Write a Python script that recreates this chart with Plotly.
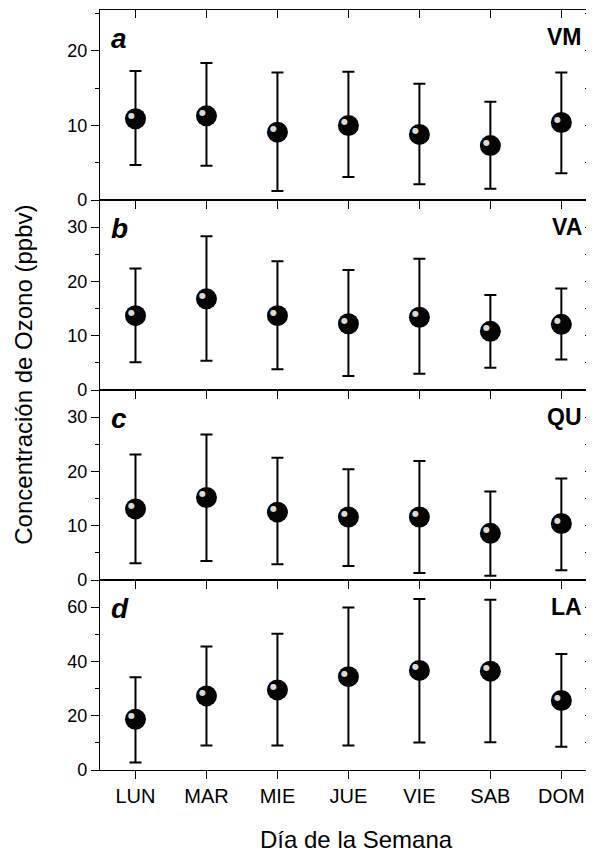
import plotly.graph_objects as go
from plotly.subplots import make_subplots

days = ["LUN", "MAR", "MIE", "JUE", "VIE", "SAB", "DOM"]

# panel a - VM
vm_mean = [10.9, 11.3, 9.1, 10.0, 8.8, 7.3, 10.4]
vm_top = [17.3, 18.4, 17.1, 17.2, 15.6, 13.2, 17.1]
vm_bot = [4.7, 4.6, 1.2, 3.1, 2.1, 1.5, 3.6]
# panel b - VA
va_mean = [13.7, 16.8, 13.7, 12.2, 13.4, 10.8, 12.1]
va_top = [22.4, 28.3, 23.7, 22.1, 24.2, 17.5, 18.7]
va_bot = [5.1, 5.4, 3.8, 2.6, 3.0, 4.1, 5.6]
# panel c - QU
qu_mean = [13.1, 15.2, 12.5, 11.6, 11.6, 8.6, 10.4]
qu_top = [23.1, 26.8, 22.5, 20.4, 21.9, 16.3, 18.7]
qu_bot = [3.1, 3.5, 2.9, 2.6, 1.3, 0.8, 1.8]
# panel d - LA
la_mean = [18.7, 27.3, 29.5, 34.4, 36.7, 36.4, 25.6]
la_top = [34.2, 45.5, 50.2, 59.9, 63.0, 62.7, 42.7]
la_bot = [2.8, 9.0, 9.0, 9.0, 10.1, 10.2, 8.6]

panel_letters = ["a", "b", "c", "d"]
stations = ["VM", "VA", "QU", "LA"]
y_max = [25.5, 35, 35, 70]
y_major = [10, 10, 10, 20]
y_minor = [5, 5, 5, 10]

x_title = "Día de la Semana"
y_title = "Concentración de Ozono (ppbv)"

means = [vm_mean, va_mean, qu_mean, la_mean]
tops = [vm_top, va_top, qu_top, la_top]
bots = [vm_bot, va_bot, qu_bot, la_bot]

FONT = "Liberation Sans, Arial, Helvetica, sans-serif"
xpos = list(range(len(days)))
XR = [-0.5, 6.46]

fig = make_subplots(rows=4, cols=1, shared_xaxes=True, vertical_spacing=0)

for i in range(4):
    r = i + 1
    m, t, b = means[i], tops[i], bots[i]
    up = [tt - mm for tt, mm in zip(t, m)]
    dn = [mm - bb for mm, bb in zip(m, b)]
    fig.add_trace(go.Scatter(
        x=xpos, y=m, mode="markers",
        marker=dict(size=21, color="#050505", line=dict(width=0)),
        error_y=dict(type="data", symmetric=False, array=up, arrayminus=dn,
                     color="black", thickness=2, width=6),
        showlegend=False, hoverinfo="skip"), row=r, col=1)
    xr = "x" if i == 0 else f"x{r}"
    yr = "y" if i == 0 else f"y{r}"
    # specular highlight on each sphere
    for xv, yv in zip(xpos, m):
        fig.add_annotation(x=xv, y=yv, xref=xr, yref=yr, text="\u25CF",
                           showarrow=False, xshift=-3.5, yshift=3.5,
                           xanchor="center", yanchor="middle",
                           font=dict(family="DejaVu Sans", size=8, color="#dadada"))

# overlay axes: right-side inside ticks for each panel, top inside ticks for panel a
for i in range(4):
    yid = 5 + i
    xref = "x" if i == 0 else f"x{i+1}"
    yref_main = "y" if i == 0 else f"y{i+1}"
    fig.add_trace(go.Scatter(x=[0], y=[0], mode="markers",
                             marker=dict(opacity=0, size=1),
                             xaxis=xref, yaxis=f"y{yid}",
                             showlegend=False, hoverinfo="skip"))
    fig.layout[f"yaxis{yid}"] = dict(
        overlaying=yref_main, side="right", anchor=xref,
        range=[0, y_max[i]], dtick=y_minor[i], tick0=0,
        ticks="inside", ticklen=9, tickwidth=1, tickcolor="black",
        showticklabels=False, showgrid=False, zeroline=False, showline=False)

fig.add_trace(go.Scatter(x=[0], y=[0], mode="markers",
                         marker=dict(opacity=0, size=1),
                         xaxis="x5", yaxis="y",
                         showlegend=False, hoverinfo="skip"))
fig.layout["xaxis5"] = dict(
    overlaying="x", side="top", anchor="y",
    range=XR, tickvals=xpos,
    ticks="inside", ticklen=8, tickwidth=1, tickcolor="black",
    showticklabels=False, showgrid=False, zeroline=False, showline=False)

for i in range(4):
    r = i + 1
    fig.update_yaxes(
        row=r, col=1, range=[0, y_max[i]], dtick=y_major[i], tick0=0,
        ticks="outside", ticklen=8, tickwidth=1, tickcolor="black",
        minor=dict(dtick=y_minor[i], tick0=0, ticks="outside", ticklen=4,
                   tickcolor="black", showgrid=False),
        showline=True, linecolor="black", linewidth=1.3, mirror=False,
        showgrid=False, zeroline=False,
        tickfont=dict(family=FONT, size=18, color="black"))
    fig.update_xaxes(
        row=r, col=1, range=XR, tickvals=xpos, ticktext=days,
        ticks="outside", ticklen=8, tickwidth=1, tickcolor="black",
        showline=True, linecolor="black", linewidth=1.3, mirror=True,
        showgrid=False, zeroline=False, showticklabels=(r == 4),
        tickfont=dict(family=FONT, size=20, color="black"))
    dom_x = "x domain" if i == 0 else f"x{r} domain"
    dom_y = "y domain" if i == 0 else f"y{r} domain"
    fig.add_annotation(x=0.018, y=0.85, xref=dom_x, yref=dom_y,
                       text=f"<b><i>{panel_letters[i]}</i></b>", showarrow=False,
                       xanchor="left", yanchor="middle",
                       font=dict(family=FONT, size=28, color="black"))
    fig.add_annotation(x=0.98, y=0.86, xref=dom_x, yref=dom_y,
                       text=f"<b>{stations[i]}</b>", showarrow=False,
                       xanchor="right", yanchor="middle",
                       font=dict(family=FONT, size=23, color="black"))

fig.add_annotation(x=0.52, y=-0.092, xref="paper", yref="paper",
                   text=x_title, showarrow=False, xanchor="center", yanchor="middle",
                   font=dict(family=FONT, size=24, color="black"))
fig.add_annotation(x=-0.154, y=0.52, xref="paper", yref="paper",
                   text=y_title, showarrow=False, textangle=-90,
                   xanchor="center", yanchor="middle",
                   font=dict(family=FONT, size=24, color="black"))

fig.update_layout(
    width=586, height=848,
    margin=dict(l=92, r=0, t=2, b=86),
    paper_bgcolor="white", plot_bgcolor="white",
    showlegend=False,
)

fig.write_html("out.html")
